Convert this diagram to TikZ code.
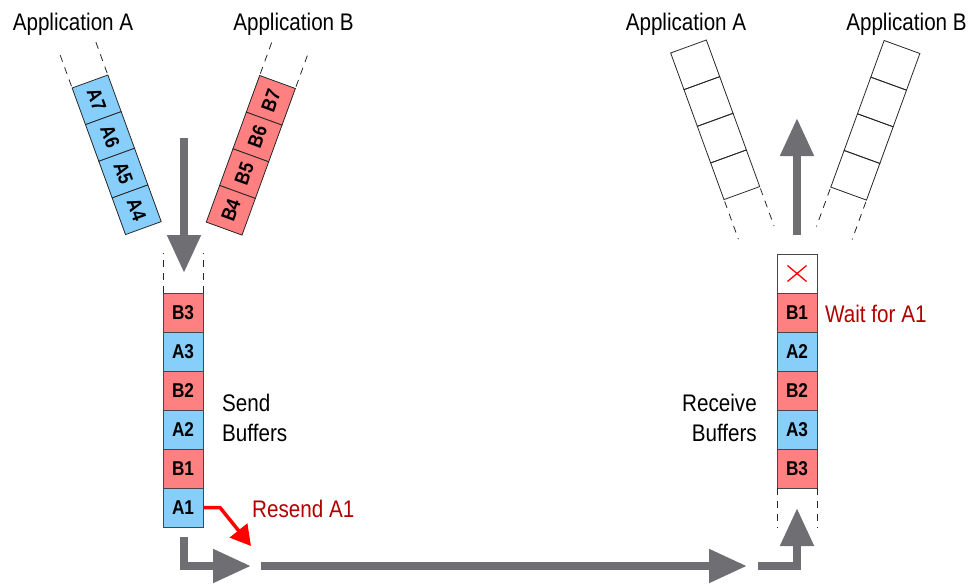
\documentclass[tikz,border=0pt]{standalone}
\usepackage{fontspec}
\setmainfont[FakeStretch=0.86]{Liberation Sans}
\usetikzlibrary{arrows.meta}
\definecolor{cellblue}{RGB}{135,206,250}
\definecolor{cellpink}{RGB}{255,128,128}
\definecolor{arrowgray}{RGB}{110,110,115}
\definecolor{labelred}{RGB}{178,0,0}
\definecolor{edgegray}{RGB}{70,70,70}
\begin{document}
\begin{tikzpicture}[x=1pt,y=-1pt,
  cellfont/.style={font=\fontsize{20}{22}\selectfont\bfseries},
  cell/.style={draw=edgegray,line width=0.9pt,minimum width=40pt,minimum height=39pt,inner sep=0pt,cellfont},
  bcell/.style={cell,fill=cellblue},
  pcell/.style={cell,fill=cellpink},
  tcell/.style={draw=black!85,line width=0.8pt,minimum width=39pt,minimum height=38pt,inner sep=0pt,transform shape,cellfont},
  tbcell/.style={tcell,fill=cellblue},
  tpcell/.style={tcell,fill=cellpink},
  dashline/.style={draw=black!85,line width=0.8pt,dash pattern=on 7pt off 6pt},
  lbl/.style={font=\fontsize{24}{30}\selectfont,inner sep=0pt},
  redlbl/.style={lbl,text=labelred},
  garrow/.style={draw=arrowgray,line width=8pt,line join=miter,-{Triangle[length=38pt,width=32pt]}},
  rarrow/.style={draw=red,line width=3.5pt,line join=miter,-{Triangle[length=20pt,width=22pt]}}
]
\useasboundingbox (0,0) rectangle (972,586);

% ---------- labels at the top ----------
\node[lbl,anchor=base] (appA1) at (73,31) {Application A};
\node[lbl,anchor=base] (appB1) at (293.5,31) {Application B};
\node[lbl,anchor=base] (appA2) at (686,31) {Application A};
\node[lbl,anchor=base] (appB2) at (906.5,31) {Application B};

% ---------- left application A stack ----------
\begin{scope}[shift={(90,81.5)},rotate=20]
  \draw[dashline] (-19,-2) -- (-19,-40);
  \draw[dashline] (19,-2) -- (19,-40);
  \node[tbcell,rotate=-90] (la7) at (0,19.5) {A7};
  \node[tbcell,rotate=-90] (la6) at (0,58.5) {A6};
  \node[tbcell,rotate=-90] (la5) at (0,97.5) {A5};
  \node[tbcell,rotate=-90] (la4) at (0,136.5) {A4};
\end{scope}

% ---------- left application B stack ----------
\begin{scope}[shift={(277.5,82)},rotate=-20]
  \draw[dashline] (-19,-2) -- (-19,-40);
  \draw[dashline] (19,-2) -- (19,-40);
  \node[tpcell,rotate=90] (lb7) at (0,19.5) {B7};
  \node[tpcell,rotate=90] (lb6) at (0,58.5) {B6};
  \node[tpcell,rotate=90] (lb5) at (0,97.5) {B5};
  \node[tpcell,rotate=90] (lb4) at (0,136.5) {B4};
\end{scope}

% ---------- right application A stack ----------
\begin{scope}[shift={(688.5,46.5)},rotate=20]
  \node[tcell,rotate=-90] (ra1) at (0,19.5) {};
  \node[tcell,rotate=-90] (ra2) at (0,58.5) {};
  \node[tcell,rotate=-90] (ra3) at (0,97.5) {};
  \node[tcell,rotate=-90] (ra4) at (0,136.5) {};
  \draw[dashline] (-19,158) -- (-19,198);
  \draw[dashline] (19,158) -- (19,198);
\end{scope}

% ---------- right application B stack ----------
\begin{scope}[shift={(902,47)},rotate=-20]
  \node[tcell,rotate=90] (rb1) at (0,19.5) {};
  \node[tcell,rotate=90] (rb2) at (0,58.5) {};
  \node[tcell,rotate=90] (rb3) at (0,97.5) {};
  \node[tcell,rotate=90] (rb4) at (0,136.5) {};
  \draw[dashline] (-19,158) -- (-19,198);
  \draw[dashline] (19,158) -- (19,198);
\end{scope}

% ---------- send buffers ----------
\draw[dashline] (163,293) -- (163,253);
\draw[dashline] (203,293) -- (203,253);
\node[pcell] (s1) at (183,312.5) {B3};
\node[bcell] (s2) at (183,351.5) {A3};
\node[pcell] (s3) at (183,390.5) {B2};
\node[bcell] (s4) at (183,429.5) {A2};
\node[pcell] (s5) at (183,468.5) {B1};
\node[bcell] (s6) at (183,507.5) {A1};
\node[lbl,anchor=base west] (send1) at (222,411) {Send};
\node[lbl,anchor=base west] (send2) at (222,441) {Buffers};

% ---------- receive buffers ----------
\node[cell,fill=white] (r0) at (797,273.5) {};
\node[pcell] (r1) at (797,312.5) {B1};
\node[bcell] (r2) at (797,351.5) {A2};
\node[pcell] (r3) at (797,390.5) {B2};
\node[bcell] (r4) at (797,429.5) {A3};
\node[pcell] (r5) at (797,468.5) {B3};
\draw[dashline] (777,488) -- (777,528);
\draw[dashline] (817,488) -- (817,528);
\draw[red,line width=1.3pt] ([shift={(-9.5,-8)}]r0.center) -- ([shift={(9.5,8)}]r0.center);
\draw[red,line width=1.3pt] ([shift={(-9.5,8)}]r0.center) -- ([shift={(9.5,-8)}]r0.center);
\node[lbl,anchor=base east] (recv1) at (757,411) {Receive};
\node[lbl,anchor=base east] (recv2) at (757,441) {Buffers};

% ---------- red labels ----------
\node[redlbl,anchor=base west] (resend) at (252,517) {Resend A1};
\node[redlbl,anchor=base west] (wait) at (825,322) {Wait for A1};

% ---------- gray arrows ----------
\coordinate (dtop) at (184,138);
\coordinate (dtip) at (184,273);
\draw[garrow] (dtop) -- (dtip);
\coordinate (b1s) at (184,537);
\coordinate (b1e) at (251,566);
\draw[garrow] (b1s) |- (b1e);
\coordinate (b2s) at (261,566);
\coordinate (b2e) at (747,566);
\draw[garrow] (b2s) -- (b2e);
\coordinate (b3s) at (758,566);
\coordinate (b3e) at (797,508);
\draw[garrow] (b3s) -| (b3e);
\coordinate (utop) at (797,118);
\coordinate (ubot) at (797,235);
\draw[garrow] (ubot) -- (utop);

% ---------- red resend arrow ----------
\coordinate (rbend) at (220,507.5);
\coordinate (rtip) at (251,546);
\draw[rarrow] (s6.east) -- (rbend) -- (rtip);
\end{tikzpicture}
\end{document}
